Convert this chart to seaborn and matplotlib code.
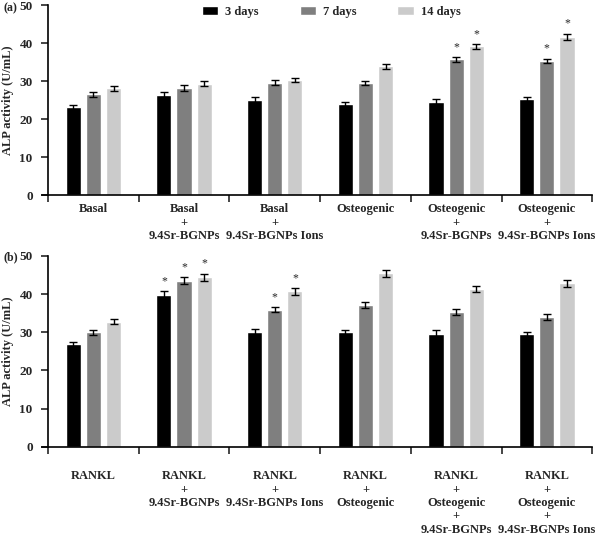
import pandas as pd
import numpy as np
import matplotlib.pyplot as plt
import seaborn as sns

# Panel (a) data
groups_a = ["Basal", "Basal\n+\n9.4Sr-BGNPs", "Basal\n+\n9.4Sr-BGNPs Ions",
            "Osteogenic", "Osteogenic\n+\n9.4Sr-BGNPs", "Osteogenic\n+\n9.4Sr-BGNPs Ions"]
a_3d = [23.1, 26.4, 25.0, 24.0, 24.6, 25.3]
a_7d = [26.5, 28.2, 29.6, 29.5, 35.7, 35.3]
a_14d = [28.1, 29.3, 30.3, 33.9, 39.1, 41.7]
a_err_3d = [0.6, 0.6, 0.7, 0.6, 0.6, 0.5]
a_err_7d = [0.6, 0.7, 0.6, 0.6, 0.7, 0.6]
a_err_14d = [0.6, 0.6, 0.6, 0.7, 0.7, 0.8]
a_star_3d = [0, 0, 0, 0, 0, 0]
a_star_7d = [0, 0, 0, 0, 1, 1]
a_star_14d = [0, 0, 0, 0, 1, 1]

# Panel (b) data
groups_b = ["RANKL", "RANKL\n+\n9.4Sr-BGNPs", "RANKL\n+\n9.4Sr-BGNPs Ions",
            "RANKL\n+\nOsteogenic", "RANKL\n+\nOsteogenic\n+\n9.4Sr-BGNPs",
            "RANKL\n+\nOsteogenic\n+\n9.4Sr-BGNPs Ions"]
b_3d = [26.9, 39.7, 30.0, 30.0, 29.6, 29.6]
b_7d = [30.0, 43.5, 35.9, 37.2, 35.4, 34.1]
b_14d = [32.8, 44.4, 40.7, 45.5, 41.4, 42.9]
b_err_3d = [0.6, 1.0, 0.8, 0.6, 0.9, 0.6]
b_err_7d = [0.7, 0.9, 0.7, 0.8, 0.8, 0.8]
b_err_14d = [0.7, 1.0, 0.9, 0.9, 0.8, 0.9]
b_star_3d = [0, 1, 0, 0, 0, 0]
b_star_7d = [0, 1, 1, 0, 0, 0]
b_star_14d = [0, 1, 1, 0, 0, 0]

days = ["3 days", "7 days", "14 days"]
colors = ["#000000", "#7f7f7f", "#cbcbcb"]

sns.set_style("white")
plt.rcParams['font.family'] = ['Liberation Serif', 'DejaVu Serif']
plt.rcParams['font.weight'] = 'bold'
plt.rcParams['axes.labelweight'] = 'bold'


def make_df(groups, v3, v7, v14):
    rows = []
    for d, vals in zip(days, [v3, v7, v14]):
        for g, v in zip(groups, vals):
            rows.append({'group': g, 'day': d, 'value': v})
    return pd.DataFrame(rows)


def draw_panel(ax, groups, vals, errs, stars, label_pad, legend):
    df = make_df(groups, *vals)
    sns.barplot(data=df, x='group', y='value', hue='day', order=groups,
                hue_order=days, palette=colors, width=0.667, gap=0.25,
                errorbar=None, saturation=1, legend=legend, ax=ax)
    for cont, v, e, s in zip(ax.containers, vals, errs, stars):
        xs = [p.get_x() + p.get_width() / 2 for p in cont.patches]
        ax.errorbar(xs, v, yerr=e, fmt='none', ecolor='black',
                    elinewidth=1.0, capsize=3, capthick=1.0)
        for x, vv, ee, ss in zip(xs, v, e, s):
            if ss:
                ax.text(x, vv + ee + 1.0, '*', ha='center', va='bottom',
                        fontsize=8.5, fontweight='normal')
    ax.set_ylim(0, 50)
    ax.set_xlim(-0.5, 5.5)
    ax.set_yticks(range(0, 51, 10))
    ax.set_xticks(range(len(groups)))
    ax.set_xticklabels(groups, fontsize=9, linespacing=1.15, va='top')
    ax.set_xticks(np.arange(-0.5, 6, 1), minor=True)
    ax.tick_params(axis='x', which='major', length=0, pad=label_pad)
    ax.tick_params(axis='x', which='minor', length=5, width=1.2, direction='out',
                   bottom=True)
    ax.tick_params(axis='y', length=5, width=1.2, direction='out', left=True,
                   labelsize=9.5, pad=6)
    ax.set_xlabel('')
    ax.set_ylabel('ALP activity (U/mL)', fontsize=9, labelpad=4)
    sns.despine(ax=ax)
    for sp in ['left', 'bottom']:
        ax.spines[sp].set_linewidth(1.2)
        ax.spines[sp].set_color('black')
    ax.spines['bottom'].set_bounds(-0.5 - 6 / 90, 5.5)


fig = plt.figure(figsize=(6.0, 5.35), dpi=100)
ax_a = fig.add_axes([0.08, 0.6355, 0.907, 0.355])
ax_b = fig.add_axes([0.08, 0.165, 0.907, 0.3565])

draw_panel(ax_a, groups_a, [a_3d, a_7d, a_14d], [a_err_3d, a_err_7d, a_err_14d],
           [a_star_3d, a_star_7d, a_star_14d], 6, True)
draw_panel(ax_b, groups_b, [b_3d, b_7d, b_14d], [b_err_3d, b_err_7d, b_err_14d],
           [b_star_3d, b_star_7d, b_star_14d], 17, False)

sns.move_legend(ax_a, 'upper center', bbox_to_anchor=(0.52, 1.03), ncol=3,
                title=None, frameon=False, fontsize=9, handlelength=1.3,
                handleheight=0.75, handletextpad=0.55, columnspacing=3.3,
                borderpad=0)

fig.text(0.005, 0.985, '(a)', fontsize=8.5, va='center', ha='left')
fig.text(0.005, 0.52, '(b)', fontsize=8.5, va='center', ha='left')

plt.savefig('out.png', dpi=100)
plt.close()
